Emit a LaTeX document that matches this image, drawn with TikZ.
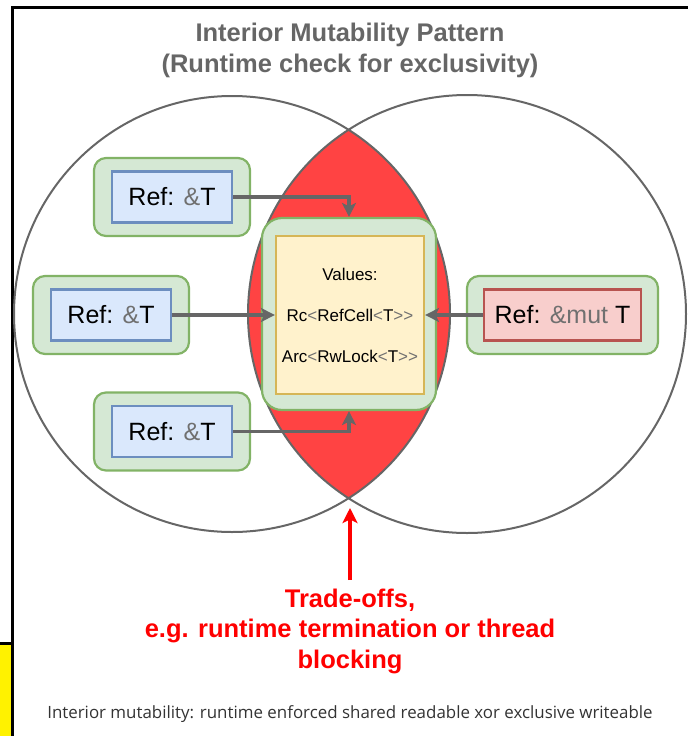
\documentclass[tikz,border=0pt]{standalone}
\usepackage{fontspec}
\setmainfont{Liberation Sans}
\newfontfamily\notefont{Open Sans}
\usetikzlibrary{positioning, arrows.meta}

\definecolor{linegray}{HTML}{666666}
\definecolor{symgray}{HTML}{707070}
\definecolor{greenfill}{HTML}{D5E8D4}
\definecolor{greenline}{HTML}{82B366}
\definecolor{bluefill}{HTML}{DAE8FC}
\definecolor{blueline}{HTML}{6C8EBF}
\definecolor{redfill}{HTML}{F8CECC}
\definecolor{redline}{HTML}{B85450}
\definecolor{yellowfill}{HTML}{FFF2CC}
\definecolor{yellowline}{HTML}{D6B656}
\definecolor{lensred}{HTML}{FF4343}
\definecolor{alertred}{HTML}{FF0000}
\definecolor{notegray}{HTML}{333333}

\newcommand{\sym}[1]{\textcolor{symgray}{#1}}

\begin{document}
\begin{tikzpicture}[x=1pt, y=-1pt, node distance=120pt, on grid,
    holder/.style={draw=greenline, fill=greenfill, line width=2.2pt, rounded corners=12pt, minimum width=156pt, minimum height=78pt},
    shared/.style={draw=blueline, fill=bluefill, line width=2.2pt, minimum width=120pt, minimum height=51pt, font=\fontsize{25}{30}\selectfont},
    excl/.style={shared, draw=redline, fill=redfill, minimum width=157pt},
    link/.style={draw=linegray, line width=3.2pt, -{Stealth[length=14pt, width=14pt, inset=3.5pt]}}]
        \useasboundingbox (0,0) rectangle (688,736);
        % Frame at the page edges
        \fill[yellow] (0,644) rectangle (11,736);
        \draw[line width=3pt] (0,643) -- (12,643);
        \draw[line width=3pt] (12,736) -- (12,7.5) -- (688,7.5);
        % Define the two circles and their overlap
        \begin{scope}
            \clip (232,314) circle [radius=218pt];
            \fill[lensred] (467,314) circle [radius=219pt];
        \end{scope}
        \draw[linegray, line width=2pt] (232,314) circle [radius=218pt] (467,314) circle [radius=219pt];
        % Define the nodes
        \node[font=\bfseries\fontsize{25.5}{31}\selectfont, text=linegray, align=center] (title) at (350,50) {Interior Mutability Pattern\\(Runtime check for exclusivity)};
        \node[holder, minimum width=174pt, minimum height=192pt, rounded corners=20pt] (v_bg) at (349,314) {};
        \node[draw=yellowline, fill=yellowfill, line width=2.2pt, minimum width=148pt, minimum height=158pt, align=center, font=\fontsize{17}{41}\selectfont] (v) at (350,315) {Values:\\Rc\sym{<}RefCell\sym{<}T\sym{>}\sym{>}\\Arc\sym{<}RwLock\sym{<}T\sym{>}\sym{>}};
        \node[holder] (r_1bg) [above left=118pt and 178pt of v] {};
        \node[holder] (r_2bg) [left=239pt of v] {};
        \node[holder] (r_3bg) [below left=116.5pt and 178pt of v] {};
        \node[holder, minimum width=191pt] (r_mbg) [right=212.5pt of v] {};
        \node[shared] (r_1) at (r_1bg) {Ref: \sym{\&}T};
        \node[shared] (r_2) at (r_2bg) {Ref: \sym{\&}T};
        \node[shared] (r_3) at (r_3bg) {Ref: \sym{\&}T};
        \node[excl] (r_m) at (r_mbg) {Ref: \sym{\&mut} T};
        \node[font=\bfseries\fontsize{25.5}{30.5}\selectfont, text=alertred, align=center] (trade) at (350,631) {Trade-offs,\\e.g. runtime termination or thread\\blocking};
        \node[font=\notefont\fontsize{16.9}{20}\selectfont, text=notegray] (note) at (350,714) {Interior mutability: runtime enforced shared readable xor exclusive writeable};
        \coordinate (meet) at (350,508);
        % Define the references
        \draw[link] (r_1.east) -| (v_bg.north);
        \draw[link] (r_2.east) -- (r_2.east -| v.west);
        \draw[link] (r_3.east) -| (v_bg.south);
        \draw[link] (r_m.west) -- (r_m.west -| v.east);
        \draw[alertred, line width=3.2pt, shorten <=5pt, -{Stealth[length=15pt, width=15pt, inset=3.5pt]}] (trade.north) -- (meet);
    \end{tikzpicture}
\end{document}
